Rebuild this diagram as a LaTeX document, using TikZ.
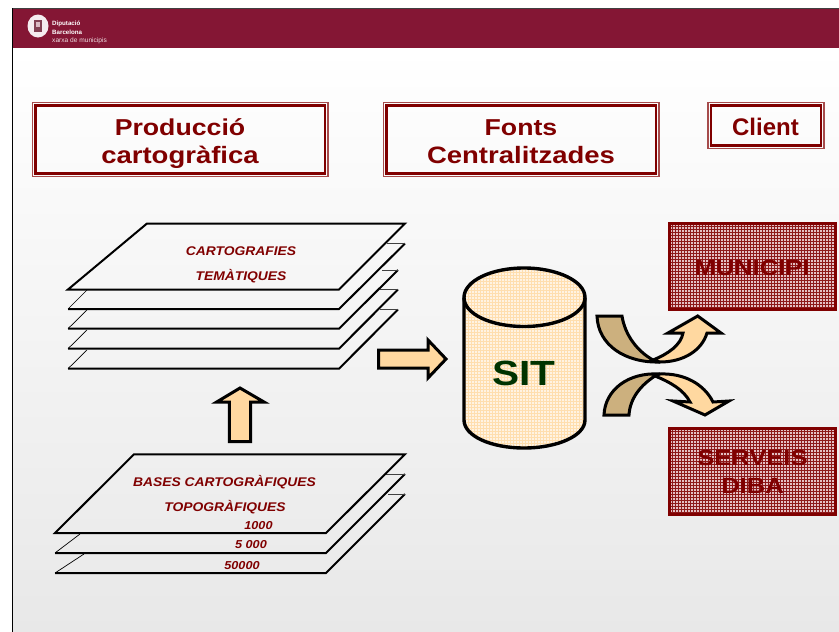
\documentclass[tikz,border=0pt]{standalone}
\usepackage{fontspec}
\setmainfont{Liberation Sans}
\newfontfamily\widefont[FakeStretch=1.16]{Liberation Sans}
\newfontfamily\sheetfont[FakeStretch=1.1]{Liberation Sans}
\definecolor{hdr}{HTML}{841634}
\definecolor{dred}{HTML}{800000}
\definecolor{peach}{HTML}{FFD8A0}
\definecolor{tan}{HTML}{CCB07E}
\definecolor{pinkbase}{HTML}{E4C0C4}
\definecolor{sitgreen}{HTML}{003300}
\tikzset{
  txt/.style={anchor=base,inner sep=0pt,align=center},
  titletxt/.style={txt,text=dred,font=\widefont\fontsize{23}{23}\selectfont\bfseries},
  titlewide/.style={txt,text=dred,font=\widefont\fontsize{23.7}{24}\selectfont\bfseries},
  clienttxt/.style={txt,text=dred,font=\fontsize{24}{24}\selectfont\bfseries},
  sheettxt/.style={txt,text=dred,font=\sheetfont\fontsize{12.6}{13}\selectfont\bfseries\itshape},
  smalltxt/.style={txt,text=dred,font=\sheetfont\fontsize{11.5}{12}\selectfont\bfseries\itshape},
  boxtxt/.style={txt,text=dred,font=\widefont\fontsize{22}{22}\selectfont\bfseries},
  sheet/.style={line width=2pt,line join=miter,black},
  thin edge/.style={line width=0.7pt,black},
  stub/.style={line width=1pt,black!75},
  fat/.style={line width=3pt,line join=miter,miter limit=6,draw=black},
}
\newcommand{\titlebox}[4]{%
  \draw[dred!70,line width=1.2pt] (#1,#2) rectangle (#3,#4);
  \draw[dred,line width=2.8pt] (#1+3,#2+3) rectangle (#3-3,#4-3);
}
\newcommand{\redbox}[4]{%
  \fill[pinkbase] (#1,#2) rectangle (#3,#4);
  \begin{scope}
    \clip (#1,#2) rectangle (#3,#4);
    \foreach \q in {0,3,...,180} {
      \draw[dred!90,line width=0.85pt] (#1+\q,#2) -- (#1+\q,#4);
      \draw[dred!90,line width=0.85pt] (#1,#2+\q) -- (#3,#2+\q);
    }
  \end{scope}
  \draw[dred,line width=3pt] (#1,#2) rectangle (#3,#4);
}
\begin{document}
\begin{tikzpicture}[x=1pt,y=-1pt]
\useasboundingbox (0,0) rectangle (839,632);
\fill[white] (0,0) rectangle (839,632);
% slide background and header
\shade[top color=white,bottom color=black!9] (12,48) rectangle (839,632);
\fill[hdr] (12,8) rectangle (839,48);
\draw[black!75,line width=0.8pt] (12,8) -- (839,8);
\draw[black,line width=1pt] (12,8) -- (12,632);
\fill[white!92!hdr] (38,26) ellipse [x radius=10.5,y radius=11.5];
\fill[hdr!75!black!80] (34,20) rectangle (42,32);
\fill[white!70!hdr] (36,22) rectangle (40,27);
\node[txt,anchor=base west,text=white,font=\fontsize{6.2}{6}\selectfont\bfseries] (l1) at (52,25) {Diputació};
\node[txt,anchor=base west,text=white,font=\fontsize{6.2}{6}\selectfont\bfseries] (l2) at (52,34) {Barcelona};
\node[txt,anchor=base west,text=white!85!hdr,font=\fontsize{6.6}{6}\selectfont] (l3) at (52,42.5) {xarxa de municipis};
% title boxes
\titlebox{32.5}{102.5}{328}{176.5}
\titlebox{383.5}{102.5}{659}{176.5}
\titlebox{708}{102.5}{824}{148.5}
\node[titletxt] (t1a) at (180,135) {Producció};
\node[titlewide] (t1b) at (180,163) {cartogràfica};
\node[titletxt] (t2a) at (521,135) {Fonts};
\node[titlewide] (t2b) at (521,163) {Centralitzades};
\node[clienttxt] (t3) at (765.5,135) {Client};
% upper stack
\draw[sheet] (68,368.7) -- (339,368.7) -- (398,309.5);
\draw[stub] (398,309.5) -- (380,309.5);
\draw[thin edge] (68,368.7) -- (87,350);
\draw[sheet] (68,348.7) -- (339,348.7) -- (398,289.5);
\draw[stub] (398,289.5) -- (380,289.5);
\draw[thin edge] (68,348.7) -- (87,330);
\draw[sheet] (68,328.7) -- (339,328.7) -- (398,270);
\draw[stub] (398,270) -- (382,270);
\draw[thin edge] (68,328.7) -- (87,310);
\draw[sheet] (68,309) -- (339,309) -- (405,243.5);
\draw[stub] (405,243.5) -- (387,243.5);
\draw[thin edge] (68,309) -- (87,290);
\draw[sheet] (147,223.5) -- (405,223.5) -- (339,289.5) -- (68,289.5) -- cycle;
\node[sheettxt] (c1) at (241,255) {CARTOGRAFIES};
\node[sheettxt] (c2) at (241,280) {TEMÀTIQUES};
% lower stack
\draw[sheet] (55,573) -- (326,573) -- (405,494);
\draw[stub] (405,494) -- (388,494);
\draw[thin edge] (55,573) -- (84,554);
\draw[sheet] (55,553) -- (326,553) -- (405,474);
\draw[stub] (405,474) -- (385,474);
\draw[thin edge] (55,553) -- (80,534);
\draw[sheet] (134,454.3) -- (405,454.3) -- (326,533) -- (55,533) -- cycle;
\node[sheettxt] (b1) at (224.5,486) {BASES CARTOGRÀFIQUES};
\node[sheettxt] (b2) at (225,511) {TOPOGRÀFIQUES};
\node[smalltxt] (s1) at (258.5,529) {1000};
\node[smalltxt] (s2) at (251,548) {5 000};
\node[smalltxt] (s3) at (242,569) {50000};
% block arrows
\draw[fat,fill=peach] (240,388) -- (216.7,402) -- (229.3,402) -- (229.3,441.7) -- (250.7,441.7) -- (250.7,402) -- (264,402) -- cycle;
\draw[fat,fill=peach] (378.5,350) -- (428,350) -- (428,340) -- (446,359) -- (428,378) -- (428,368) -- (378.5,368) -- cycle;
% cylinder
\fill[white!70!peach] (464,297.5) -- (464,420) .. controls (464,436) and (491,448) .. (524,448) .. controls (557,448) and (585,436) .. (585,420) -- (585,297.5) .. controls (585,281) and (557,268) .. (524,268) .. controls (491,268) and (464,281) .. (464,297.5) -- cycle;
\begin{scope}
  \clip (464,297.5) -- (464,420) .. controls (464,436) and (491,448) .. (524,448) .. controls (557,448) and (585,436) .. (585,420) -- (585,297.5) .. controls (585,281) and (557,268) .. (524,268) .. controls (491,268) and (464,281) .. (464,297.5) -- cycle;
  \foreach \q in {0,3,...,186} {
    \draw[peach!85,line width=0.7pt] (462.5+\q,266) -- (462.5+\q,450);
    \draw[peach!85,line width=0.7pt] (462,266.5+\q) -- (587,266.5+\q);
  }
\end{scope}
\draw[line width=3.4pt,black] (464,297.5) -- (464,420) .. controls (464,436) and (491,448) .. (524,448) .. controls (557,448) and (585,436) .. (585,420) -- (585,297.5) .. controls (585,281) and (557,268) .. (524,268) .. controls (491,268) and (464,281) .. (464,297.5) -- cycle;
\draw[line width=3.4pt,black] (464,297.5) .. controls (464,314) and (491,326.5) .. (524,326.5) .. controls (557,326.5) and (585,314) .. (585,297.5);
\node[txt,text=sitgreen,font=\widefont\fontsize{35}{35}\selectfont\bfseries] (sit) at (524,385) {SIT};
% crossing curved arrows
\draw[fat,fill=tan] (597,316) -- (622,316) .. controls (625,335) and (637,351) .. (653,360) .. controls (656,361) and (658,362) .. (660,362) .. controls (625,363) and (598,345) .. (597,316) -- cycle;
\draw[fat,fill=peach] (653,360) .. controls (668,354) and (681,345) .. (683,333) -- (668,333) -- (697.7,316) -- (721,333) -- (707,333) .. controls (702,350) and (684,362) .. (660,362) -- cycle;
\draw[fat,fill=tan] (604,415) -- (629,415) .. controls (630,398) and (641,385) .. (655,376) .. controls (657,375) and (658,374) .. (660,374) .. controls (628,372) and (605,390) .. (604,415) -- cycle;
\draw[fat,fill=peach] (655,376) .. controls (670,382) and (684,390) .. (690,402) -- (673,401) -- (705,415) -- (729,401) -- (713,402) .. controls (704,384) and (684,373) .. (660,374) -- cycle;
% target boxes
\redbox{669.5}{223.5}{835.5}{309.5}
\redbox{669.5}{428}{835.5}{514}
\node[boxtxt] (m) at (752,275.7) {MUNICIPI};
\node[boxtxt] (sa) at (752.5,465.7) {SERVEIS};
\node[boxtxt] (sb) at (752.5,493.5) {DIBA};
\end{tikzpicture}
\end{document}
